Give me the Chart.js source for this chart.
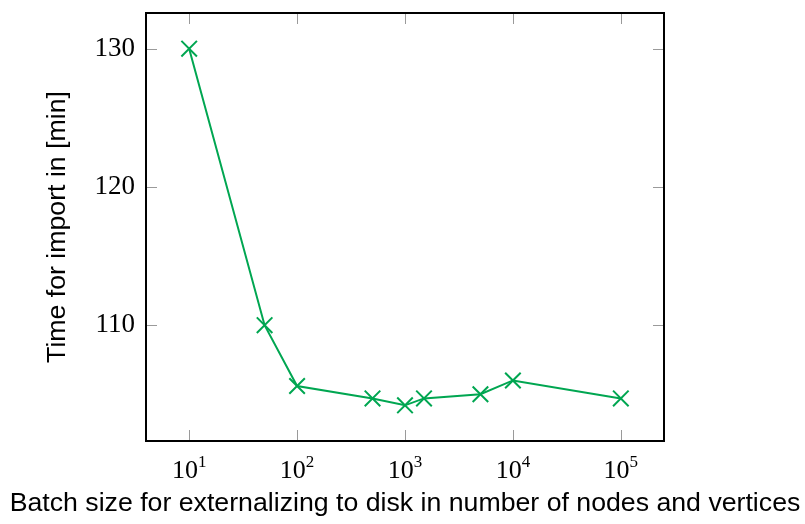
<!DOCTYPE html>
<html>
<head>
<meta charset="utf-8">
<script src="https://cdn.jsdelivr.net/npm/chart.js@4/dist/chart.umd.min.js"></script>
<style>
  html, body { margin: 0; padding: 0; background: #fff; }
  #wrap { width: 805px; height: 524px; }
</style>
</head>
<body>
<div id="wrap"><canvas id="importChart" width="805" height="524"></canvas></div>
<script>
// batch sizes (x, log scale) and import times in minutes (y)
const batchSizes = [10, 50, 100, 500, 1000, 1500, 5000, 10000, 100000];
const importMinutes = [130, 110, 105.6, 104.7, 104.2, 104.7, 105, 106, 104.7];
const xTickValues = [10, 100, 1000, 10000, 100000];
const yTickValues = [110, 120, 130];
const xTitle = 'Batch size for externalizing to disk in number of nodes and vertices';

const lineColor = 'rgb(0,166,81)';

// frame, inward ticks on all four sides, 10^n labels and the x title
const framePlugin = {
    id: 'frame',
    afterDraw(chart) {
        const ctx = chart.ctx;
        const a = chart.chartArea;
        const xs = chart.scales.x, ys = chart.scales.y;
        const len = 11;
        ctx.save();
        ctx.strokeStyle = '#9a9a9a';
        ctx.lineWidth = 1;
        ctx.beginPath();
        xTickValues.forEach(v => {
            const px = Math.round(xs.getPixelForValue(v)) + 0.5;
            ctx.moveTo(px, a.top); ctx.lineTo(px, a.top + len);
            ctx.moveTo(px, a.bottom); ctx.lineTo(px, a.bottom - len);
        });
        yTickValues.forEach(v => {
            const py = Math.round(ys.getPixelForValue(v)) + 0.5;
            ctx.moveTo(a.left, py); ctx.lineTo(a.left + len, py);
            ctx.moveTo(a.right, py); ctx.lineTo(a.right - len, py);
        });
        ctx.stroke();

        ctx.strokeStyle = '#000';
        ctx.lineWidth = 2;
        ctx.strokeRect(a.left, a.top, a.right - a.left, a.bottom - a.top);

        // x tick labels as 10 with a raised exponent
        ctx.fillStyle = '#000';
        ctx.textBaseline = 'alphabetic';
        ctx.textAlign = 'left';
        const baseFont = '26px "Liberation Serif", "DejaVu Serif", serif';
        const expFont = '17px "Liberation Serif", "DejaVu Serif", serif';
        xTickValues.forEach(v => {
            const exp = String(Math.round(Math.log10(v)));
            ctx.font = baseFont;
            const w1 = ctx.measureText('10').width;
            ctx.font = expFont;
            const w2 = ctx.measureText(exp).width;
            const cx = xs.getPixelForValue(v);
            const x0 = cx - (w1 + w2) / 2;
            ctx.font = baseFont;
            ctx.fillText('10', x0, 478);
            ctx.font = expFont;
            ctx.fillText(exp, x0 + w1, 467);
        });

        // x axis title, centred on the whole figure
        ctx.font = '26.7px "Liberation Sans", Arial, sans-serif';
        ctx.textAlign = 'center';
        ctx.textBaseline = 'middle';
        ctx.fillText(xTitle, 405, 504);
        ctx.restore();
    }
};

const ctx = document.getElementById('importChart').getContext('2d');
new Chart(ctx, {
    type: 'line',
    data: {
        datasets: [{
            data: batchSizes.map((b, i) => ({ x: b, y: importMinutes[i] })),
            borderColor: lineColor,
            backgroundColor: lineColor,
            borderWidth: 2,
            pointStyle: 'crossRot',
            pointRadius: 11,
            pointBorderWidth: 2,
            pointBorderColor: lineColor,
            tension: 0,
            fill: false
        }]
    },
    options: {
        responsive: false,
        animation: false,
        layout: {
            padding: { top: 11, right: 141, left: 0, bottom: 0 }
        },
        plugins: {
            legend: { display: false },
            tooltip: { enabled: false }
        },
        scales: {
            x: {
                type: 'logarithmic',
                min: Math.pow(10, 0.6),
                max: Math.pow(10, 5.4),
                afterBuildTicks: s => { s.ticks = xTickValues.map(v => ({ value: v })); },
                afterFit: s => { s.height = 83; s.paddingLeft = 0; s.paddingRight = 0; },
                grid: { display: false, drawTicks: false },
                border: { display: false },
                ticks: { display: false },
                title: { display: false }
            },
            y: {
                type: 'linear',
                min: 101.62,
                max: 132.58,
                afterBuildTicks: s => { s.ticks = yTickValues.map(v => ({ value: v })); },
                afterFit: s => { s.width = 146; s.paddingTop = 0; s.paddingBottom = 0; },
                grid: { display: false, drawTicks: false },
                border: { display: false },
                ticks: {
                    color: '#000',
                    padding: 11,
                    font: { family: '"Liberation Serif", "DejaVu Serif", serif', size: 27 }
                },
                title: {
                    display: true,
                    text: 'Time for import in [min]',
                    color: '#000',
                    font: { family: '"Liberation Sans", Arial, sans-serif', size: 26.7 },
                    padding: { top: 42, bottom: 0 }
                }
            }
        }
    },
    plugins: [framePlugin]
});
</script>
</body>
</html>
